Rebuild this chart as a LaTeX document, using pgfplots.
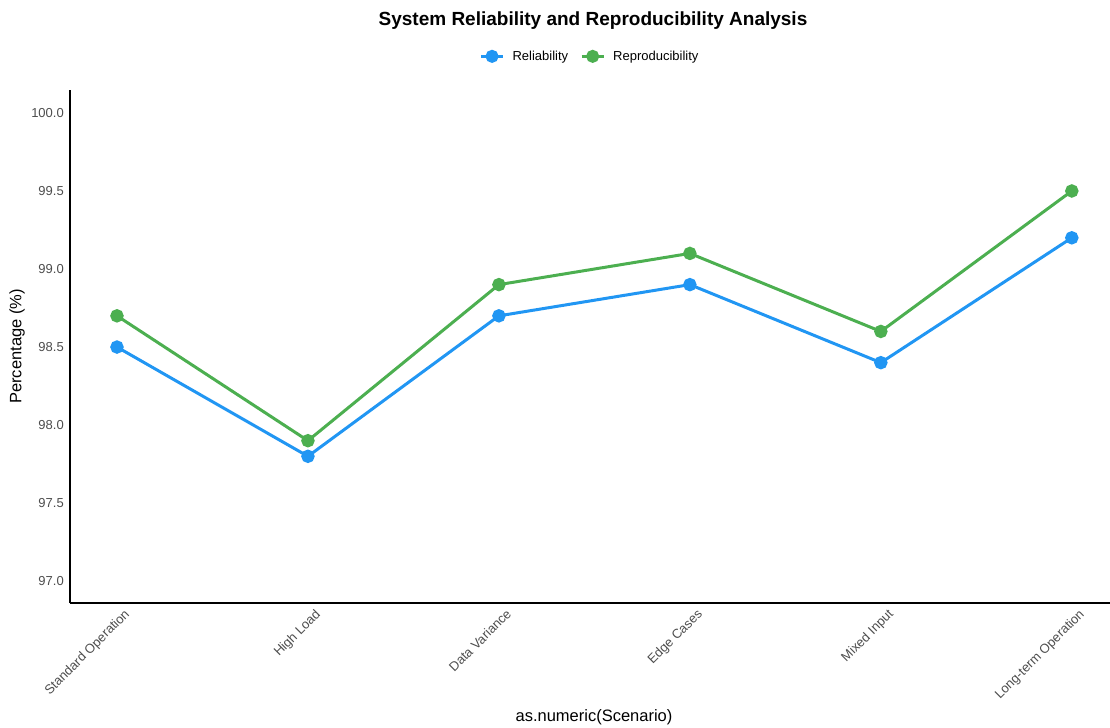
\documentclass[border=0pt]{standalone}
\usepackage{pgfplots}
\pgfplotsset{compat=1.18}
\usepackage{fontspec}
\setmainfont{Liberation Sans}
\definecolor{relblue}{HTML}{2196F3}
\definecolor{repgreen}{HTML}{4CAF50}
\definecolor{tickgray}{HTML}{4D4D4D}
\begin{document}
\begin{tikzpicture}
\begin{axis}[
  name=ax,
  scale only axis,
  width=1040pt, height=513pt,
  xmin=-0.246, xmax=5.2,
  ymin=96.86, ymax=100.147,
  axis lines*=left,
  axis line style={black, line width=1.3pt},
  major tick length=0pt,
  xtick={0,1,2,3,4,5},
  xticklabels={Standard Operation,High Load,Data Variance,Edge Cases,Mixed Input,Long-term Operation},
  xticklabel style={rotate=45, anchor=north east, font=\fontsize{13}{15}\selectfont, text=tickgray, inner sep=2pt, xshift=3pt, yshift=-6pt},
  ytick={97,97.5,98,98.5,99,99.5,100},
  yticklabel style={font=\fontsize{13}{15}\selectfont, text=tickgray, inner sep=2pt, xshift=-4pt},
  /pgf/number format/.cd, fixed, fixed zerofill, precision=1, assume math mode=true,
  /pgfplots/.cd,
  legend style={at={(0.5,1)}, anchor=south, yshift=24pt, draw=none, legend columns=-1,
    font=\fontsize{13}{15}\selectfont, /tikz/every even column/.append style={column sep=10pt},
    /tikz/every odd column/.append style={column sep=6pt}},
  legend image code/.code={\draw[#1, line width=3pt] (0pt,0pt) -- (22pt,0pt); \fill[#1] (11pt,0pt) circle (5pt);},
  clip=false,
]
\addplot[relblue, line width=3pt, mark=*, mark size=5.2pt, mark options={draw=none, fill=relblue}] coordinates {
(0,98.5) (1,97.8) (2,98.7) (3,98.9) (4,98.4) (5,99.2)};
\addlegendentry{Reliability}
\addplot[repgreen, line width=3pt, mark=*, mark size=5.2pt, mark options={draw=none, fill=repgreen}] coordinates {
(0,98.7) (1,97.9) (2,98.9) (3,99.1) (4,98.6) (5,99.5)};
\addlegendentry{Reproducibility}
\end{axis}
\node[font=\bfseries\fontsize{19}{22}\selectfont, anchor=base] at ([xshift=3pt,yshift=64pt]ax.north) {System Reliability and Reproducibility Analysis};
\node[font=\fontsize{16.5}{19}\selectfont, anchor=base] at ([xshift=4pt,yshift=-118pt]ax.south) {as.numeric(Scenario)};
\node[font=\fontsize{16.5}{19}\selectfont, rotate=90, anchor=center] at ([xshift=-53pt,yshift=0pt]ax.west) {Percentage (\%)};
\pgfresetboundingbox
\useasboundingbox ([xshift=-70pt,yshift=-124pt]ax.south west) rectangle ([yshift=90pt]ax.north east);
\end{tikzpicture}
\end{document}
